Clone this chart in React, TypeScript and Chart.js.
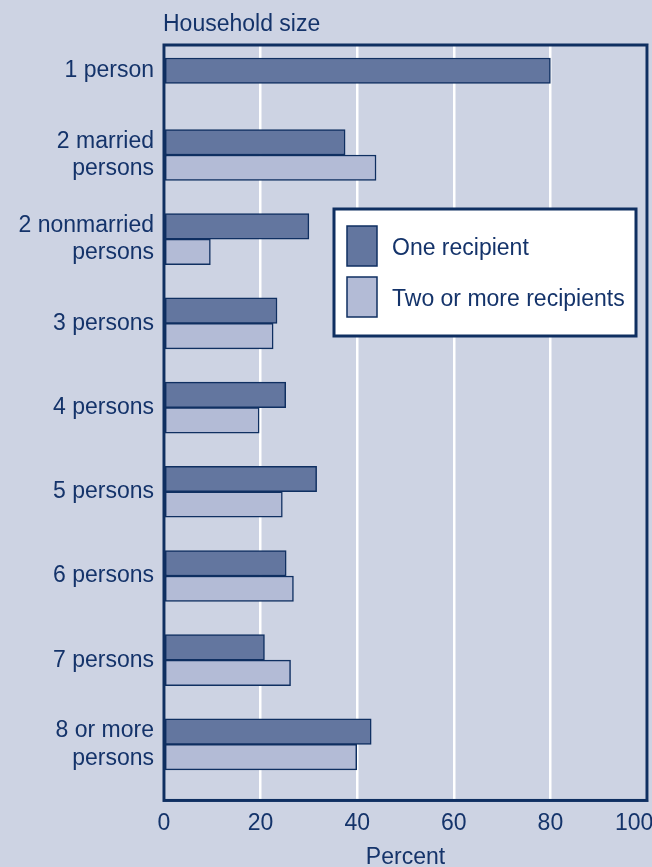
import { useEffect, useRef } from "react";
import { Chart, registerables } from "chart.js";

Chart.register(...registerables);

const categories: string[][] = [
  ["1 person"],
  ["2 married", "persons"],
  ["2 nonmarried", "persons"],
  ["3 persons"],
  ["4 persons"],
  ["5 persons"],
  ["6 persons"],
  ["7 persons"],
  ["8 or more", "persons"],
];
const oneRecipient: number[] = [80, 37.5, 30.0, 23.4, 25.2, 31.6, 25.3, 20.8, 42.9];
const twoOrMoreRecipients: (number | null)[] = [null, 43.9, 9.6, 22.6, 19.7, 24.5, 26.8, 26.2, 39.9];
const seriesNames: string[] = ["One recipient", "Two or more recipients"];
const xTickValues: number[] = [0, 20, 40, 60, 80, 100];
const chartTitle = "Household size";
const xAxisTitle = "Percent";

const BG = "#cdd3e3";
const DARK = "#63769f";
const LIGHT = "#b3bbd6";
const NAVY = "#0f2f61";
const TEXT = "#14336a";
const FONT = "'Liberation Sans', Arial, Helvetica, sans-serif";

const framePlugin = {
  id: "frameAndLegend",
  afterDatasetsDraw(chart: any) {
    const { ctx, chartArea: a } = chart;
    ctx.save();
    // plot frame
    ctx.strokeStyle = NAVY;
    ctx.lineWidth = 3;
    ctx.strokeRect(a.left, a.top, a.right - a.left, a.bottom - a.top);
    // title
    ctx.fillStyle = TEXT;
    ctx.font = `23px ${FONT}`;
    ctx.textAlign = "left";
    ctx.textBaseline = "alphabetic";
    ctx.fillText(chartTitle, a.left - 1, 31);
    // legend
    const lx = a.left + 170;
    const ly = a.top + 164;
    const lw = 302;
    const lh = 127;
    ctx.fillStyle = "#ffffff";
    ctx.fillRect(lx, ly, lw, lh);
    ctx.strokeStyle = NAVY;
    ctx.lineWidth = 3;
    ctx.strokeRect(lx, ly, lw, lh);
    chart.data.datasets.forEach((ds: any, i: number) => {
      const sy = ly + 17 + i * 51;
      ctx.fillStyle = ds.backgroundColor;
      ctx.fillRect(lx + 13, sy, 30, 40);
      ctx.strokeStyle = NAVY;
      ctx.lineWidth = 1.5;
      ctx.strokeRect(lx + 13, sy, 30, 40);
      ctx.fillStyle = TEXT;
      ctx.fillText(ds.label, lx + 58, sy + 29);
    });
    ctx.restore();
  },
};

export default function App() {
  const ref = useRef<HTMLCanvasElement | null>(null);

  useEffect(() => {
    if (!ref.current) return;
    const chart = new Chart(ref.current, {
      type: "bar",
      data: {
        datasets: [
          {
            label: seriesNames[0],
            data: oneRecipient.map((v, i) => ({ x: v, y: i })) as any,
            backgroundColor: DARK,
            borderColor: NAVY,
            borderWidth: 1.5,
            borderSkipped: false,
            barThickness: 25.5,
          },
          {
            label: seriesNames[1],
            data: twoOrMoreRecipients.map((v, i) => ({ x: v, y: i })) as any,
            backgroundColor: LIGHT,
            borderColor: NAVY,
            borderWidth: 1.5,
            borderSkipped: false,
            barThickness: 25.5,
          },
        ],
      },
      options: {
        indexAxis: "y",
        responsive: false,
        animation: false,
        skipNull: true,
        layout: { padding: { top: 45, right: 5, left: 0, bottom: 0 } },
        plugins: {
          legend: { display: false },
          title: { display: false },
          tooltip: { enabled: false },
        },
        scales: {
          x: {
            type: "linear",
            min: 0,
            max: 100,
            afterBuildTicks: (s: any) => {
              s.ticks = xTickValues.map((v) => ({ value: v }));
            },
            afterFit: (s: any) => {
              s.paddingRight = 0;
            },
            grid: { color: "#ffffff", lineWidth: 2.5, drawTicks: false },
            border: { display: false },
            ticks: {
              color: TEXT,
              font: { family: FONT, size: 23, lineHeight: 1 },
              padding: 12,
              maxRotation: 0,
              callback: (v: any, idx: number, ticks: any[]) =>
                idx === ticks.length - 1 ? `${v}    ` : `${v}`,
            },
            title: {
              display: true,
              text: xAxisTitle,
              color: TEXT,
              font: { family: FONT, size: 23, lineHeight: 0.85 },
              padding: { top: 0, bottom: 0 },
            },
          },
          y: {
            type: "linear",
            reverse: true,
            offset: false,
            min: -0.306,
            max: 8.666,
            afterBuildTicks: (s: any) => {
              s.ticks = categories.map((_, i) => ({ value: i }));
            },
            afterFit: (s: any) => {
              s.width = 164;
            },
            grid: { display: false, drawTicks: false, offset: false },
            border: { display: false },
            ticks: {
              color: TEXT,
              autoSkip: false,
              font: { family: FONT, size: 23, lineHeight: 1.2 },
              padding: 10,
              callback: (v: any) => categories[Math.round(Number(v))] ?? "",
            },
          },
        },
      } as any,
      plugins: [framePlugin],
    });
    return () => chart.destroy();
  }, []);

  return (
    <div
      style={{
        position: "fixed",
        left: 0,
        top: 0,
        width: 652,
        height: 867,
        background: BG,
        overflow: "hidden",
      }}
    >
      <canvas ref={ref} width={652} height={867} style={{ display: "block", width: 652, height: 867 }} />
    </div>
  );
}
